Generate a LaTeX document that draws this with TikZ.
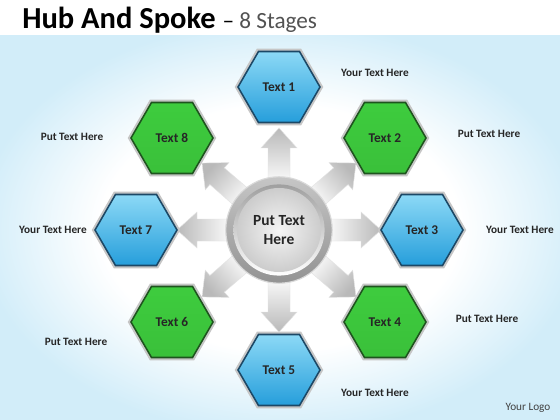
\documentclass[tikz,border=0pt]{standalone}
\usepackage{fontspec}
\setmainfont{Carlito}
\usetikzlibrary{shapes.geometric,calc}

\definecolor{sfondoblu}{RGB}{210,237,249}
\definecolor{bluA}{RGB}{140,217,246}
\definecolor{bluB}{RGB}{38,158,219}
\definecolor{bordoblu}{RGB}{28,72,102}
\definecolor{verdeA}{RGB}{62,204,62}
\definecolor{verdeB}{RGB}{145,232,145}
\definecolor{verdeC}{RGB}{58,192,58}
\definecolor{bordoverde}{RGB}{30,84,30}

\pgfdeclareradialshading{fondo}{\pgfpoint{0bp}{0bp}}{color(0bp)=(white); color(16bp)=(white); color(27bp)=(sfondoblu); color(50bp)=(sfondoblu)}

\tikzset{
	esagono/.style={regular polygon, regular polygon sides=6, minimum size=2.05cm, inner sep=0pt,
		line width=1.1pt, text=black!85, font=\fontsize{9.5}{11}\selectfont\bfseries,
		preaction={draw=gray!45, line width=4pt}},
	esablu/.style={esagono, draw=bordoblu, top color=bluA, bottom color=bluB},
	esaverde/.style={esagono, draw=bordoverde, top color=verdeA, middle color=verdeB, bottom color=verdeC},
	etichetta/.style={text=black!85, font=\fontsize{8}{10}\selectfont\bfseries},
}

\begin{document}
\begin{tikzpicture}[x=0.025cm, y=-0.025cm]
		    \useasboundingbox (0,0) rectangle (560,420);
		    \fill[white] (0,0) rectangle (560,420);
		    \shade[shading=fondo] (0,36) rectangle (560,420); % sfondo

		    \node[anchor=base west, inner sep=0pt] (titolo) at (22,29)
		    	{\fontsize{21.7}{24}\selectfont\bfseries Hub And Spoke {\mdseries\fontsize{16.5}{20}\selectfont -- \color{black!68}8 Stages}};

		    \begin{scope}
					\coordinate (hub) at (279,230);

					% frecce
					\foreach \ang [evaluate=\ang as \sa using \ang-90] in {90,41,0,-41,-90,-139,180,139}
						\shade[top color=gray!55, bottom color=white, shading angle=\sa, draw=gray!22, line width=0.3pt]
							($(hub)+(-\ang:45)+(-\ang+90:11)$) -- ($(hub)+(-\ang:82)+(-\ang+90:11)$)
							-- ($(hub)+(-\ang:82)+(-\ang+90:18)$) -- ($(hub)+(-\ang:102)$)
							-- ($(hub)+(-\ang:82)+(-\ang-90:18)$) -- ($(hub)+(-\ang:82)+(-\ang-90:11)$)
							-- ($(hub)+(-\ang:45)+(-\ang-90:11)$) -- cycle;

					% mozzo
					\shade[top color=gray!45, bottom color=gray!85, draw=gray!30, line width=0.8pt] (hub) circle (1.33cm);
					\shade[top color=gray!75, bottom color=white] (hub) circle (1.14cm);
					\node[circle, minimum size=2.1cm, inner sep=0pt, inner color=gray!8, outer color=gray!40,
						align=center, font=\fontsize{11}{13.5}\selectfont\bfseries, text=black!85] (centro) at (hub) {Put Text\\Here};

					\node[esablu] (es1) at (279,87) {Text 1};
					\node[esaverde] (es2) at (385,138) {Text 2};
					\node[esablu] (es3) at (422,230) {Text 3};
					\node[esaverde] (es4) at (385,322) {Text 4};
					\node[esablu] (es5) at (279,370) {Text 5};
					\node[esaverde] (es6) at (172,322) {Text 6};
					\node[esablu] (es7) at (136,230) {Text 7};
					\node[esaverde] (es8) at (172,138) {Text 8};

					\node[etichetta] (et1) at (375,73) {Your Text Here};
					\node[etichetta] (et2) at (489,134) {Put Text Here};
					\node[etichetta] (et3) at (520,230) {Your Text Here};
					\node[etichetta] (et4) at (487,319) {Put Text Here};
					\node[etichetta] (et5) at (375,393) {Your Text Here};
					\node[etichetta] (et6) at (76,342) {Put Text Here};
					\node[etichetta] (et7) at (53,230) {Your Text Here};
					\node[etichetta] (et8) at (72,137) {Put Text Here};

					\node[text=black!75, font=\fontsize{8}{10}\selectfont] (logo) at (528,408) {Your Logo};
		    \end{scope}
\end{tikzpicture}
\end{document}
